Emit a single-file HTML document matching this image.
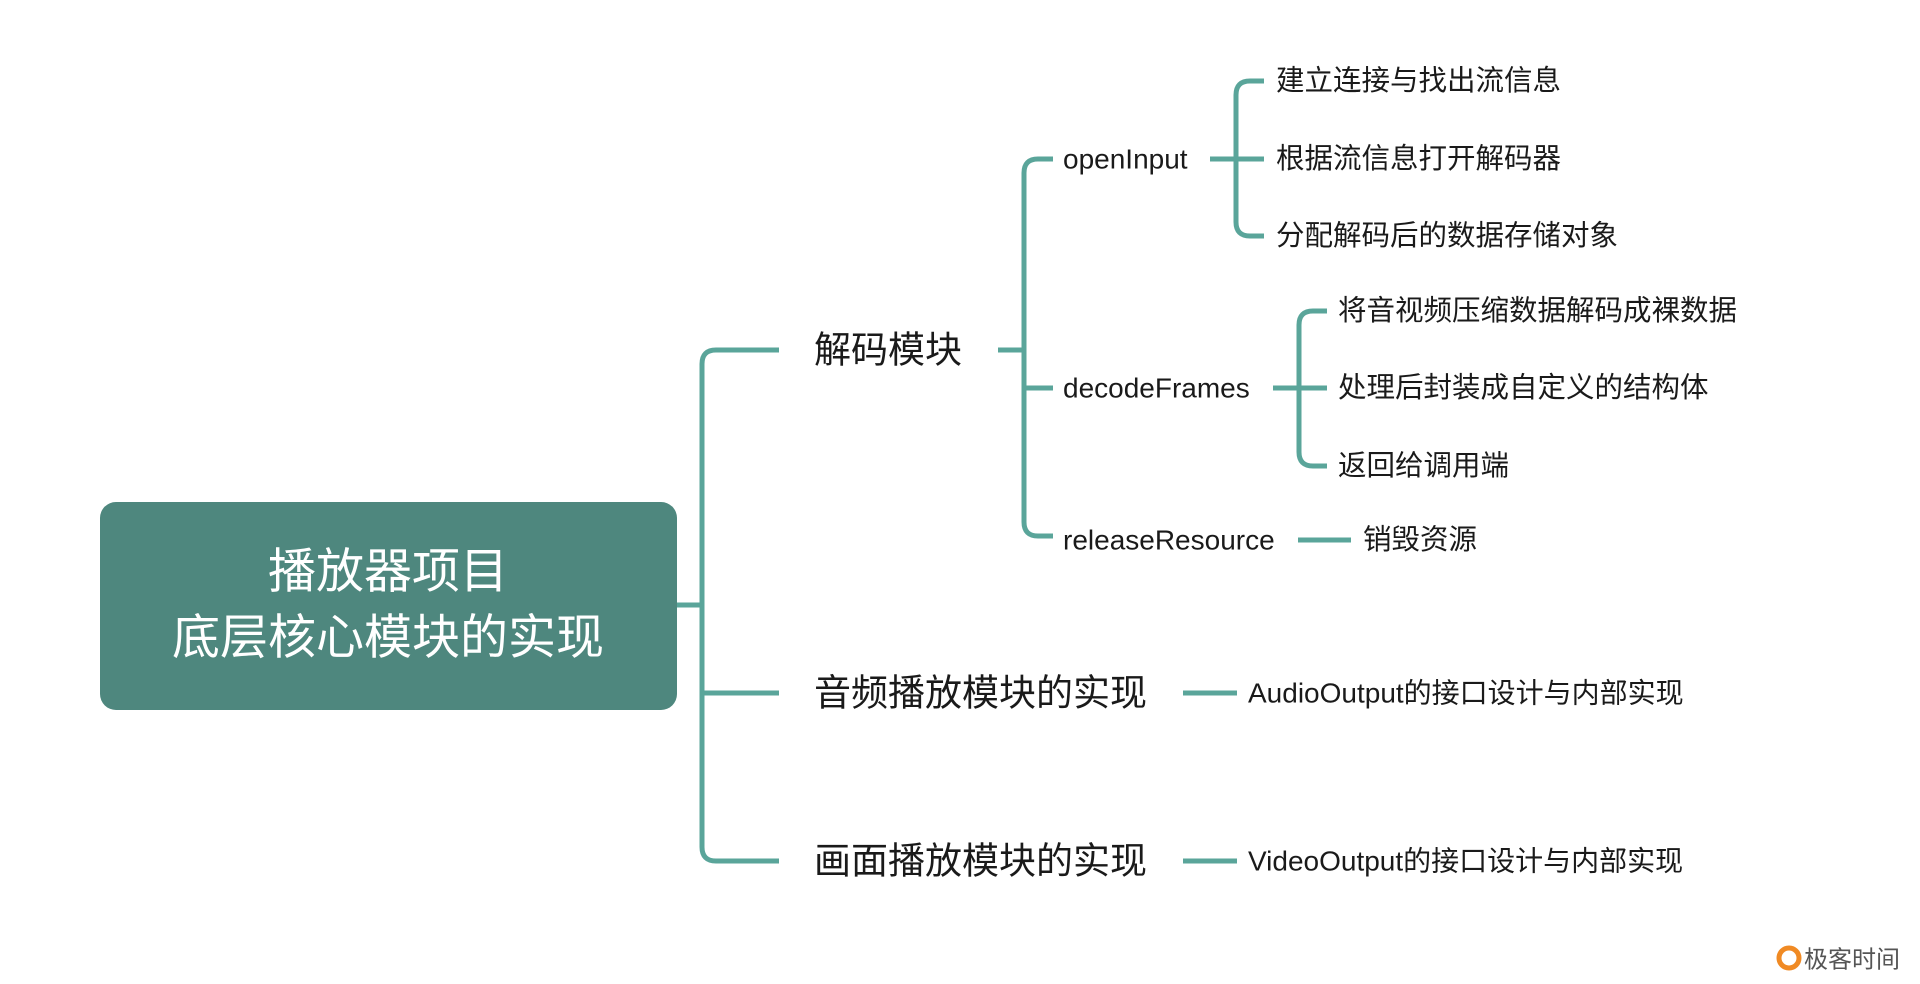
<!DOCTYPE html>
<html><head><meta charset="utf-8"><style>
html,body{margin:0;padding:0;background:#fff;}
svg{display:block;}
text{font-family:"Liberation Sans","Noto Sans CJK SC",sans-serif;fill:#1a1a1a;dominant-baseline:central;}
</style></head><body>
<svg width="1920" height="984" viewBox="0 0 1920 984" xmlns="http://www.w3.org/2000/svg">
<rect x="100" y="502" width="577" height="208" rx="16" fill="#4e877e"/>
<text x="388" y="572" text-anchor="middle" font-size="48" style="fill:#fff">播放器项目</text>
<text x="388" y="638" text-anchor="middle" font-size="48" style="fill:#fff">底层核心模块的实现</text>
<g fill="none" stroke="#5aa59a" stroke-width="5">
<path d="M677 605 H702"/>
<path d="M779 350 H716 Q702 350 702 364 V847 Q702 861 716 861 H779"/>
<path d="M702 693 H779"/>
<path d="M998 350 H1024"/>
<path d="M1053 159 H1038 Q1024 159 1024 173 V522 Q1024 536 1038 536 H1053"/>
<path d="M1024 388 H1053"/>
<path d="M1210 159 H1264"/>
<path d="M1264 81 H1250 Q1236 81 1236 95 V222 Q1236 236 1250 236 H1264"/>
<path d="M1273 388 H1327"/>
<path d="M1327 311 H1313 Q1299 311 1299 325 V452 Q1299 466 1313 466 H1327"/>
<path d="M1298 540 H1351"/>
<path d="M1183 693 H1237"/>
<path d="M1183 861 H1237"/>
</g>
<text x="814" y="350" font-size="37">解码模块</text>
<text x="814" y="693" font-size="37">音频播放模块的实现</text>
<text x="814" y="861" font-size="37">画面播放模块的实现</text>
<text x="1063" y="159" font-size="28">openInput</text>
<text x="1063" y="388" font-size="28">decodeFrames</text>
<text x="1063" y="540" font-size="28">releaseResource</text>
<text x="1276" y="81" font-size="28.5">建立连接与找出流信息</text>
<text x="1276" y="159" font-size="28.5">根据流信息打开解码器</text>
<text x="1276" y="236" font-size="28.5">分配解码后的数据存储对象</text>
<text x="1338" y="311" font-size="28.5">将音视频压缩数据解码成裸数据</text>
<text x="1338" y="388" font-size="28.5">处理后封装成自定义的结构体</text>
<text x="1338" y="466" font-size="28.5">返回给调用端</text>
<text x="1363" y="540" font-size="28.5">销毁资源</text>
<text x="1248" y="693" font-size="28">AudioOutput的接口设计与内部实现</text>
<text x="1248" y="861" font-size="28">VideoOutput的接口设计与内部实现</text>
<circle cx="1789" cy="958" r="10" fill="none" stroke="#f08a24" stroke-width="5"/>
<text x="1804" y="960" font-size="24" style="fill:#555">极客时间</text>
</svg>
</body></html>
